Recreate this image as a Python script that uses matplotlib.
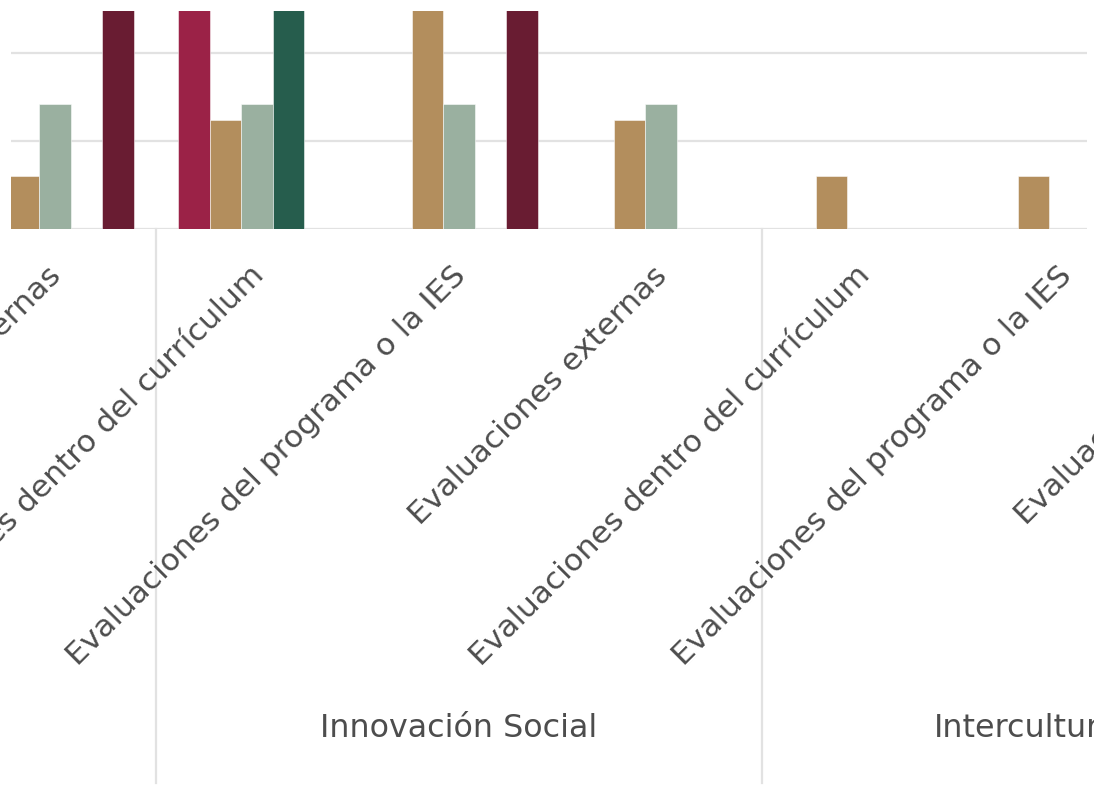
import numpy as np
import matplotlib
matplotlib.use('Agg')
import matplotlib.pyplot as plt
import matplotlib.transforms as mtransforms

# Categories visible in this view (first one belongs to the previous group)
categories = [
    "Evaluaciones externas",
    "Evaluaciones dentro del currículum",
    "Evaluaciones del programa o la IES",
    "Evaluaciones externas",
    "Evaluaciones dentro del currículum",
    "Evaluaciones del programa o la IES",
    "Evaluaciones externas",
]
groups = ["Innovación Social", "Interculturalidad"]
group_centers = [2, 5]
group_edges = [0.5, 3.5, 6.5]

# Series values (tall bars run past the top of the view)
serie_1 = [0, 30, 0, 0, 0, 0, 0]
serie_2 = [6.0, 12.4, 30, 12.4, 6.0, 6.0, 0]
serie_3 = [14.2, 14.2, 14.2, 14.2, 0, 0, 0]
serie_4 = [0, 30, 0, 0, 0, 0, 0]
serie_5 = [30, 0, 30, 0, 0, 0, 0]
series = [serie_1, serie_2, serie_3, serie_4, serie_5]
colors = ['#9B2247', '#B38E5D', '#9AB0A0', '#265D4D', '#691C32']

text_color = '#4D4D4D'
grid_color = '#E2E2E2'

plt.rcParams['font.family'] = ['DejaVu Sans']

W, H = 1094, 788
fig = plt.figure(figsize=(W / 100, H / 100), dpi=100)
ax_left, ax_right, ax_top, ax_bottom = 11, 1087, 10.7, 229
ax = fig.add_axes([ax_left / W, (H - ax_bottom) / H,
                   (ax_right - ax_left) / W, (ax_bottom - ax_top) / H])

x = np.arange(len(categories))
bar_w = 0.156
n = len(series)
for k, (vals, col) in enumerate(zip(series, colors)):
    ax.bar(x + (k - (n - 1) / 2) * bar_w, vals, width=bar_w, color=col,
           edgecolor=(1, 1, 1, 0.6), linewidth=0.6, zorder=3)

# x scale: 202 px per category, first category centre at 55 px
x0 = (ax_left - 55) / 202
x1 = (ax_right - 55) / 202
ax.set_xlim(x0, x1)
ax.set_ylim(0, 24.8)

for yv in [0, 10, 20]:
    ax.axhline(yv, color=grid_color, linewidth=1.6, zorder=1)

for s in ax.spines.values():
    s.set_visible(False)
ax.set_xticks([])
ax.set_yticks([])

blend = mtransforms.blended_transform_factory(ax.transData, ax.transAxes)

# rotated category labels
lab_tr = mtransforms.offset_copy(blend, fig=fig, x=8, y=-48, units='dots')
for xi, lab in zip(x, categories):
    ax.text(xi, 0, lab, transform=lab_tr, rotation=45, rotation_mode='anchor',
            ha='right', va='baseline', fontsize=22.5, color=text_color,
            clip_on=False)

# group separators and names
for e in group_edges:
    ax.plot([e, e], [0, -554 / 218.3], transform=blend, color=grid_color,
            linewidth=1.6, clip_on=False)
grp_tr = mtransforms.offset_copy(blend, fig=fig, x=0, y=-508, units='dots')
for gx, g in zip(group_centers, groups):
    ax.text(gx, 0, g, transform=grp_tr, ha='center', va='baseline',
            fontsize=22.9, color=text_color, clip_on=False)

plt.savefig('out.png', dpi=100)
